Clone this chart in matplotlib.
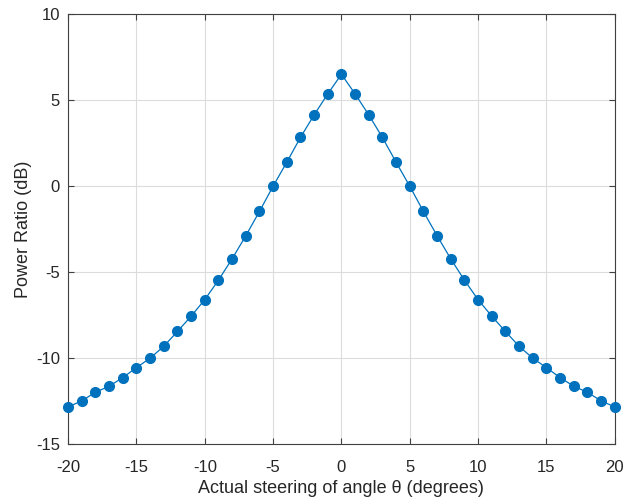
import numpy as np
import matplotlib
matplotlib.use("Agg")
import matplotlib.pyplot as plt

# steering angle (degrees) and measured power ratio (dB)
angles = np.arange(-20, 21, 1)
half_ratio = [6.5, 5.36, 4.14, 2.83, 1.39, 0.0, -1.47, -2.88, -4.22, -5.46,
              -6.59, -7.55, -8.44, -9.30, -9.99, -10.54, -11.12, -11.62,
              -11.97, -12.47, -12.82]
power_ratio = half_ratio[:0:-1] + half_ratio

x_ticks = [-20, -15, -10, -5, 0, 5, 10, 15, 20]
y_ticks = [-15, -10, -5, 0, 5, 10]

LINE_COLOR = "#0072BD"
AXIS_COLOR = "#404040"
TEXT_COLOR = "#262626"

plt.rcParams["font.family"] = ["Liberation Sans", "DejaVu Sans"]
plt.rcParams["axes.unicode_minus"] = False

fig = plt.figure(figsize=(6.37, 5.01), dpi=100)
ax = fig.add_axes([0.107, 0.113, 0.858, 0.859])

ax.plot(angles, power_ratio, color=LINE_COLOR, linewidth=0.9,
        marker="o", markersize=7, markerfacecolor=LINE_COLOR,
        markeredgecolor=LINE_COLOR, clip_on=False, zorder=3)

ax.set_xlim(-20, 20)
ax.set_ylim(-15, 10)
ax.set_xticks(x_ticks)
ax.set_yticks(y_ticks)
ax.grid(True, color="#dcdcdc", linewidth=0.8)
ax.set_axisbelow(True)

ax.tick_params(direction="in", top=True, right=True, length=4,
               color=AXIS_COLOR, labelcolor=TEXT_COLOR, labelsize=12)
ax.tick_params(axis="x", pad=11)
ax.tick_params(axis="y", pad=6)
for sp in ax.spines.values():
    sp.set_color(AXIS_COLOR)
    sp.set_linewidth(0.8)

ax.set_xlabel("Actual steering of angle \u03b8 (degrees)", fontsize=13,
              color=TEXT_COLOR, labelpad=4)
ax.set_ylabel("Power Ratio (dB)", fontsize=13, color=TEXT_COLOR, labelpad=3)

fig.savefig("out.png", dpi=100)
